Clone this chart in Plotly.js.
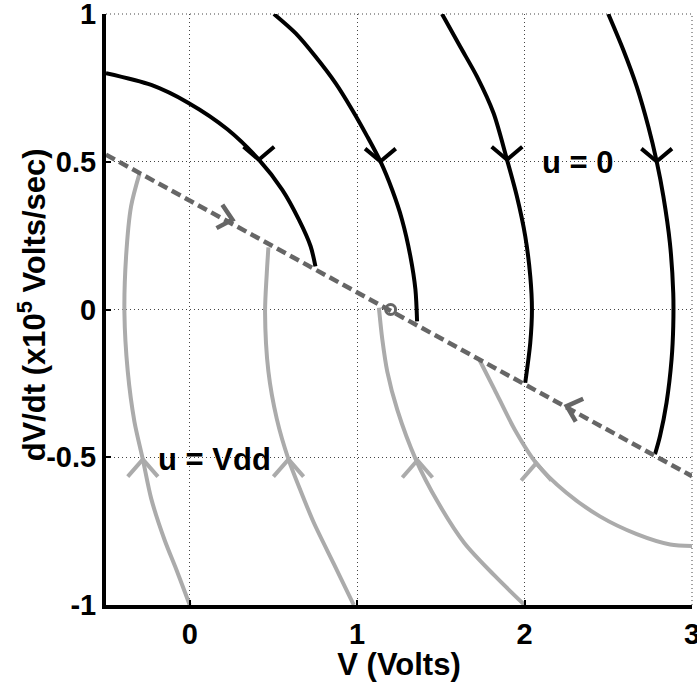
<!DOCTYPE html>
<html><head><meta charset="utf-8">
<script src="https://cdn.plot.ly/plotly-3.0.1.min.js"></script>
<style>html,body{margin:0;padding:0;background:#fff}#chart{width:697px;height:682px}</style>
</head><body><div id="chart"></div>
<script>
// ---- u = 0 trajectories (black) ----
const u0Curve1X = [-0.50, -0.23, -0.01, 0.225, 0.413, 0.553, 0.652, 0.722, 0.751];
const u0Curve1Y = [0.80, 0.76, 0.70, 0.61, 0.507, 0.405, 0.304, 0.214, 0.146];
const u0Curve2X = [0.503, 0.632, 0.751, 0.871, 0.970, 1.060, 1.139, 1.209, 1.268, 1.318, 1.348, 1.358];
const u0Curve2Y = [1.00, 0.935, 0.856, 0.766, 0.676, 0.586, 0.501, 0.405, 0.304, 0.18, 0.068, -0.04];
const u0Curve3X = [1.507, 1.616, 1.716, 1.815, 1.895, 1.954, 2.004, 2.034, 2.044, 2.034, 2.004];
const u0Curve3Y = [1.00, 0.889, 0.788, 0.664, 0.507, 0.383, 0.248, 0.113, 0.0, -0.113, -0.248];
const u0Curve4X = [2.50, 2.590, 2.670, 2.739, 2.789, 2.829, 2.868, 2.888, 2.888, 2.878, 2.848, 2.809, 2.779];
const u0Curve4Y = [1.00, 0.878, 0.754, 0.619, 0.501, 0.383, 0.225, 0.056, -0.056, -0.169, -0.315, -0.428, -0.49];

// ---- u = Vdd trajectories (gray) ----
const vddCurve1X = [0.00, -0.08, -0.15, -0.23, -0.28, -0.33, -0.37, -0.39, -0.38, -0.35, -0.30];
const vddCurve1Y = [-1.00, -0.88, -0.78, -0.64, -0.507, -0.38, -0.21, -0.01, 0.18, 0.35, 0.46];
const vddCurve2X = [0.98, 0.86, 0.74, 0.66, 0.59, 0.52, 0.47, 0.45, 0.46, 0.47];
const vddCurve2Y = [-1.00, -0.86, -0.72, -0.61, -0.507, -0.37, -0.21, -0.01, 0.12, 0.21];
const vddCurve3X = [2.00, 1.82, 1.64, 1.48, 1.35, 1.24, 1.18, 1.15, 1.13];
const vddCurve3Y = [-1.00, -0.90, -0.79, -0.65, -0.507, -0.34, -0.21, -0.10, 0.006];
const vddCurve4X = [3.00, 2.87, 2.67, 2.45, 2.25, 2.07, 1.94, 1.82, 1.73];
const vddCurve4Y = [-0.80, -0.795, -0.76, -0.70, -0.62, -0.52, -0.405, -0.27, -0.17];

// ---- switching line and equilibrium ----
const switchLineX = [-0.5, 3.0];
const switchLineY = [0.524, -0.564];
const equilibriumX = [1.2];
const equilibriumY = [0.0];

// ---- flow-direction arrows (position + direction of motion in degrees) ----
const u0ArrowX = [0.413, 1.139, 1.895, 2.789];
const u0ArrowY = [0.507, 0.501, 0.507, 0.501];
const u0ArrowDir = [-90, -90, -90, -90];
const vddArrowX = [-0.28, 0.59, 1.36, 2.07];
const vddArrowY = [-0.507, -0.507, -0.51, -0.52];
const vddArrowDir = [90, 90, 90, 90];
const switchArrowX = [0.255, 2.252];
const switchArrowY = [0.304, -0.327];
const switchArrowDir = [-14, 162];

// ---- axes ----
const xRange = [-0.5, 3];
const yRange = [-1, 1];
const xTicks = [0, 1, 2, 3];
const yTicks = [-1, -0.5, 0, 0.5, 1];
const xTitle = 'V (Volts)';
const yTitle = 'dV/dt (x10<sup>5</sup> Volts/sec)';

const W = 697, H = 682;
const M = {l: 106, r: 5, t: 14, b: 77};
const plotW = W - M.l - M.r, plotH = H - M.t - M.b;
const sx = plotW / (xRange[1] - xRange[0]);
const sy = plotH / (yRange[1] - yRange[0]);

function chevrons(xs, ys, dirs, len, halfDeg) {
  const X = [], Y = [];
  const h = halfDeg * Math.PI / 180;
  xs.forEach((x0, i) => {
    const y0 = ys[i];
    const back = dirs[i] * Math.PI / 180 + Math.PI;
    const a1 = back + h, a2 = back - h;
    X.push(x0 + len * Math.cos(a1) / sx, x0, x0 + len * Math.cos(a2) / sx, null);
    Y.push(y0 + len * Math.sin(a1) / sy, y0, y0 + len * Math.sin(a2) / sy, null);
  });
  return {X, Y};
}

const BLACK = '#000000', GRAY = '#ababab', DARK = '#666666';
const traces = [];
[[vddCurve1X, vddCurve1Y], [vddCurve2X, vddCurve2Y], [vddCurve3X, vddCurve3Y], [vddCurve4X, vddCurve4Y]].forEach(c => {
  traces.push({x: c[0], y: c[1], mode: 'lines', line: {color: GRAY, width: 4, shape: 'spline', smoothing: 0.8}, hoverinfo: 'skip'});
});
[[u0Curve1X, u0Curve1Y], [u0Curve2X, u0Curve2Y], [u0Curve3X, u0Curve3Y], [u0Curve4X, u0Curve4Y]].forEach(c => {
  traces.push({x: c[0], y: c[1], mode: 'lines', line: {color: BLACK, width: 4, shape: 'spline', smoothing: 0.8}, hoverinfo: 'skip'});
});
traces.push({x: switchLineX, y: switchLineY, mode: 'lines', line: {color: DARK, width: 4.5, dash: '10px,5px'}, hoverinfo: 'skip'});

const cb = chevrons(u0ArrowX, u0ArrowY, u0ArrowDir, 20, 50);
traces.push({x: cb.X, y: cb.Y, mode: 'lines', line: {color: BLACK, width: 4}, hoverinfo: 'skip'});
const cg = chevrons(vddArrowX, vddArrowY, vddArrowDir, 23, 41);
traces.push({x: cg.X, y: cg.Y, mode: 'lines', line: {color: GRAY, width: 4}, hoverinfo: 'skip'});
const cs = chevrons(switchArrowX, switchArrowY, switchArrowDir, 18, 42);
traces.push({x: cs.X, y: cs.Y, mode: 'lines', line: {color: DARK, width: 4.5}, hoverinfo: 'skip'});

traces.push({x: equilibriumX, y: equilibriumY, mode: 'markers',
  marker: {symbol: 'circle-open', size: 10, color: DARK, line: {color: DARK, width: 3}}, hoverinfo: 'skip'});

const FONT = 'Liberation Sans, Arial, Helvetica, sans-serif';
const GRID = '#444444';
const axisCommon = {
  showline: true, linecolor: '#000', linewidth: 4,
  ticks: 'inside', ticklen: 5, tickwidth: 2, tickcolor: '#000',
  showgrid: true, gridcolor: GRID, gridwidth: 1, griddash: '1px,3px',
  zeroline: false, mirror: false, fixedrange: true,
  ticklabeloverflow: 'allow',
  tickfont: {family: FONT, size: 29, color: '#000', weight: 'bold'}
};

const layout = {
  width: W, height: H,
  margin: M,
  paper_bgcolor: '#fff', plot_bgcolor: '#fff',
  showlegend: false,
  xaxis: Object.assign({}, axisCommon, {
    range: xRange, tickmode: 'array', tickvals: xTicks, ticktext: xTicks.map(String),
    title: {text: xTitle, font: {family: FONT, size: 31, color: '#000', weight: 'bold'}, standoff: 2}
  }),
  yaxis: Object.assign({}, axisCommon, {
    range: yRange, tickmode: 'array', tickvals: yTicks, ticktext: yTicks.map(String)
  }),
  shapes: [
    {type: 'line', xref: 'paper', yref: 'paper', x0: 0, x1: 1, y0: 1, y1: 1, layer: 'below',
     line: {color: GRID, width: 1, dash: '1px,3px'}},
    {type: 'line', xref: 'paper', yref: 'paper', x0: 1, x1: 1, y0: 0, y1: 1, layer: 'below',
     line: {color: GRID, width: 1, dash: '1px,3px'}}
  ],
  annotations: [
    {x: (32 - M.l) / plotW, y: 0.507, xref: 'paper', yref: 'paper', text: yTitle, textangle: -90,
     showarrow: false, xanchor: 'center', yanchor: 'middle',
     font: {family: FONT, size: 31, color: '#000', weight: 'bold'}},
    {x: 2.317, y: 0.497, xref: 'x', yref: 'y', text: 'u = 0', showarrow: false,
     font: {family: FONT, size: 31, color: '#000', weight: 'bold'}},
    {x: 0.149, y: -0.507, xref: 'x', yref: 'y', text: 'u = Vdd', showarrow: false,
     font: {family: FONT, size: 31, color: '#000', weight: 'bold'}}
  ]
};

Plotly.newPlot('chart', traces, layout, {staticPlot: true, displayModeBar: false});
</script>
</body></html>
